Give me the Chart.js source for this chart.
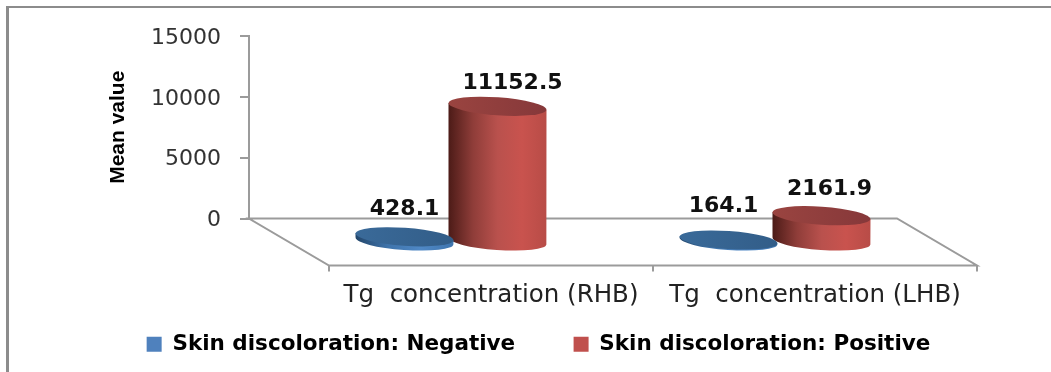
<!DOCTYPE html>
<html>
<head>
<meta charset="utf-8">
<script src="https://cdn.jsdelivr.net/npm/chart.js@4"></script>
<style>
  html, body { margin: 0; padding: 0; background: #fff; overflow: hidden; }
  #wrap { position: relative; width: 1051px; height: 372px; }
  canvas { display: block; }
</style>
</head>
<body>
<div id="wrap"><canvas id="chart" width="1051" height="372"></canvas></div>
<script>
const categories = ['Tg  concentration (RHB)', 'Tg  concentration (LHB)'];
const negativeValues = [428.1, 164.1];
const positiveValues = [11152.5, 2161.9];
const seriesNames = ['Skin discoloration: Negative', 'Skin discoloration: Positive'];
const yTicks = [0, 5000, 10000, 15000];

const axisGray = '#9b9b9b';
const depthX = 80;   // floor depth of the fake 3D box
const depthY = 47;

// colour ramps for the cylinders
const looks = [
  { side: ['#23466b', '#3f74ab', '#4f88c6', '#3f75ae'], top: ['#3a6a99', '#325d88'], legend: '#4f81bd' },
  { side: ['#4c1b17', '#8f3d39', '#b9514d', '#c9534e', '#b84c47'], top: ['#9a4440', '#86383a'], legend: '#c0504d' }
];

// label shift from the cylinder top, per dataset and category
const labelShift = [
  [[0, -28], [-5, -34]],
  [[15, -23], [8, -26.5]]
];

function ramp(ctx, x0, x1, stops) {
  const g = ctx.createLinearGradient(x0, 0, x1, 0);
  stops.forEach((c, i) => g.addColorStop(i / (stops.length - 1), c));
  return g;
}

const boxPlugin = {
  id: 'box3d',
  beforeDatasetsDraw(chart) {
    const ctx = chart.ctx;
    const { x, y } = chart.scales;
    const floorY = y.getPixelForValue(0);
    ctx.save();
    ctx.strokeStyle = axisGray;
    ctx.lineWidth = 2;
    ctx.beginPath();
    ctx.moveTo(x.left, floorY);
    ctx.lineTo(x.right, floorY);
    ctx.lineTo(x.right + depthX, floorY + depthY);
    ctx.lineTo(x.left + depthX, floorY + depthY);
    ctx.closePath();
    const ticksAt = [x.left, (x.left + x.right) / 2, x.right];
    ticksAt.forEach(t => {
      ctx.moveTo(t + depthX, floorY + depthY);
      ctx.lineTo(t + depthX, floorY + depthY + 6);
    });
    ctx.stroke();
    ctx.restore();
  },
  afterDatasetsDraw(chart) {
    const ctx = chart.ctx;
    const tilt = 4 * Math.PI / 180;
    // positive first, the flat negative discs sit over its edge
    [1, 0].forEach(ds => {
      const look = looks[ds];
      chart.getDatasetMeta(ds).data.forEach(bar => {
        const rx = bar.width / 2 + 2.5;
        const ry = 9;
        const cx = bar.x + depthX / 2;
        const topY = bar.y + depthY / 2;
        const baseY = bar.base + depthY / 2;
        const left = cx - rx, right = cx + rx;
        const slip = Math.sin(tilt) * rx;
        ctx.save();
        ctx.beginPath();
        ctx.moveTo(left, topY - slip);
        ctx.lineTo(left, baseY - slip);
        ctx.ellipse(cx, baseY, rx, ry, tilt, Math.PI, 0, true);
        ctx.lineTo(right, topY + slip);
        ctx.closePath();
        ctx.fillStyle = ramp(ctx, left, right, look.side);
        ctx.fill();
        ctx.beginPath();
        ctx.ellipse(cx, topY, rx, ry, tilt, 0, Math.PI * 2);
        ctx.fillStyle = ramp(ctx, left, right, look.top);
        ctx.fill();
        ctx.restore();
      });
    });
  },
  afterDraw(chart) {
    const ctx = chart.ctx;
    ctx.save();
    // picture frame: only top and left survive the crop
    ctx.fillStyle = '#8c8c8c';
    ctx.fillRect(6, 6, chart.width - 6, 2);
    ctx.fillRect(6, 6, 3, chart.height - 6);
    // value labels
    ctx.fillStyle = '#111';
    ctx.font = 'bold 22px "DejaVu Sans"';
    ctx.textAlign = 'center';
    ctx.textBaseline = 'middle';
    chart.data.datasets.forEach((set, ds) => {
      chart.getDatasetMeta(ds).data.forEach((bar, i) => {
        const shift = labelShift[ds][i];
        ctx.fillText(String(set.data[i]), bar.x + depthX / 2 + shift[0], bar.y + depthY / 2 + shift[1]);
      });
    });
    ctx.restore();
  }
};

new Chart(document.getElementById('chart'), {
  type: 'bar',
  data: {
    labels: categories,
    datasets: [
      { label: seriesNames[0], data: negativeValues, backgroundColor: 'transparent' },
      { label: seriesNames[1], data: positiveValues, backgroundColor: 'transparent' }
    ]
  },
  options: {
    responsive: false,
    animation: false,
    events: [],
    layout: { padding: { top: 36, left: 26, right: 0, bottom: 7 } },
    datasets: { bar: { categoryPercentage: 0.574, barPercentage: 1 } },
    plugins: {
      tooltip: { enabled: false },
      legend: {
        position: 'bottom',
        labels: {
          boxWidth: 15,
          boxHeight: 15,
          padding: 6,
          color: '#111',
          font: { family: '"DejaVu Sans"', size: 21.5, weight: 'bold' },
          // trailing spaces widen the gap between the two entries
          generateLabels: chart => chart.data.datasets.map((d, i) => ({
            text: i === 0 ? d.label + '       ' : d.label,
            fillStyle: looks[i].legend,
            strokeStyle: looks[i].legend,
            lineWidth: 0,
            datasetIndex: i
          }))
        }
      }
    },
    scales: {
      x: {
        grid: { display: false },
        border: { display: false },
        ticks: {
          color: '#222',
          padding: 54,
          labelOffset: depthX,
          maxRotation: 0,
          autoSkip: false,
          font: { family: '"DejaVu Sans"', size: 24.5 }
        },
        afterFit: s => { s.height = 109; }
      },
      y: {
        min: 0,
        max: 15000,
        afterBuildTicks: s => { s.ticks = yTicks.map(v => ({ value: v })); },
        grid: { drawOnChartArea: false, color: axisGray, tickColor: axisGray, tickLength: 9, lineWidth: 2 },
        border: { color: axisGray, width: 2 },
        ticks: {
          color: '#333',
          padding: 19,
          labelOffset: 2,
          callback: v => String(v),
          font: { family: '"DejaVu Sans"', size: 22 }
        },
        title: {
          display: true,
          text: 'Mean value',
          color: '#000',
          padding: { top: 80, bottom: 0 },
          font: { family: '"Liberation Sans"', size: 21, weight: 'bold' }
        },
        afterFit: s => { s.width = 223; }
      },
      spare: {
        position: 'right',
        display: true,
        grid: { display: false },
        border: { display: false },
        ticks: { display: false },
        afterFit: s => { s.width = 154; }
      }
    }
  },
  plugins: [boxPlugin]
});
</script>
</body>
</html>
